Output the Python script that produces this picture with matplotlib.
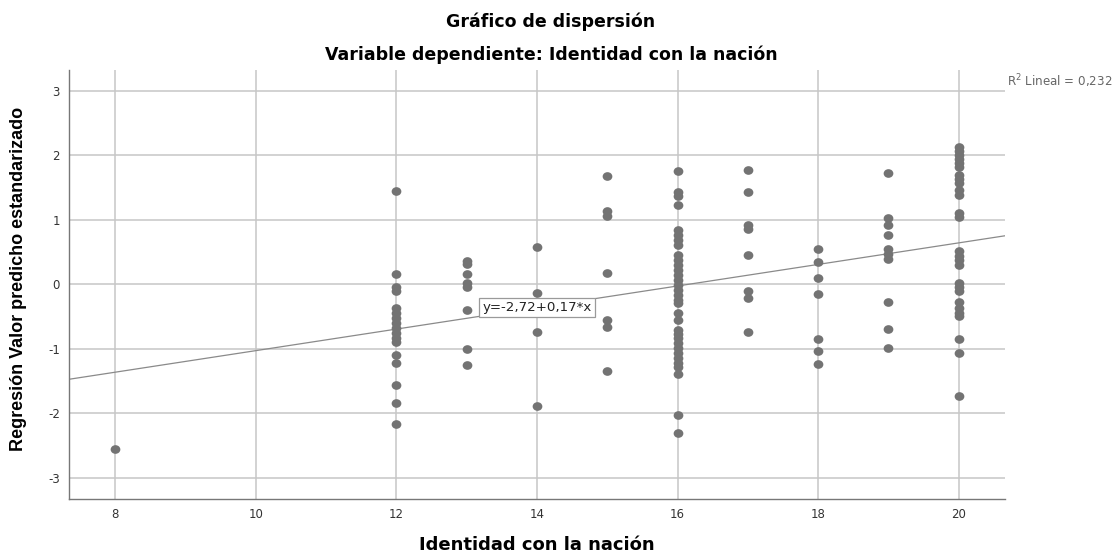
import matplotlib
matplotlib.use("Agg")
import matplotlib.pyplot as plt
import numpy as np
from matplotlib.path import Path
from matplotlib.transforms import Affine2D

plt.rcParams['font.family'] = ['DejaVu Sans']
plt.rcParams['axes.unicode_minus'] = False

# ---- data ----
identidad_levels = [8, 12, 13, 14, 15, 16, 17, 18, 19, 20]
y_8 = [-2.56]
y_12 = [1.44, 0.16, -0.05, -0.11, -0.37, -0.45, -0.53, -0.60, -0.68, -0.76,
        -0.84, -0.90, -1.10, -1.22, -1.56, -1.84, -2.16]
y_13 = [0.36, 0.31, 0.155, 0.025, -0.05, -0.40, -1.00, -1.26]
y_14 = [0.58, -0.14, -0.74, -1.89]
y_15 = [1.68, 1.14, 1.05, 0.17, -0.555, -0.66, -1.34]
y_16 = [1.76, 1.43, 1.36, 1.23, 0.84, 0.76, 0.69, 0.61, 0.45, 0.38, 0.30, 0.22,
        0.14, 0.07, -0.01, -0.09, -0.17, -0.24, -0.29, -0.45, -0.56, -0.71,
        -0.77, -0.84, -0.91, -0.99, -1.07, -1.15, -1.22, -1.29, -1.40, -2.03, -2.30]
y_17 = [1.77, 1.43, 0.92, 0.85, 0.45, -0.10, -0.22, -0.74]
y_18 = [0.55, 0.34, 0.09, -0.15, -0.85, -1.03, -1.24]
y_19 = [1.72, 1.02, 0.91, 0.76, 0.54, 0.47, 0.39, -0.28, -0.69, -0.99]
y_20 = [2.13, 2.07, 2.00, 1.94, 1.88, 1.81, 1.69, 1.63, 1.57, 1.46, 1.38, 1.10,
        1.04, 0.51, 0.44, 0.37, 0.30, 0.02, -0.04, -0.10, -0.28, -0.37, -0.44,
        -0.50, -0.85, -1.06, -1.74]
columns = [y_8, y_12, y_13, y_14, y_15, y_16, y_17, y_18, y_19, y_20]

fit_intercept = -2.70
fit_slope = 0.167
fit_label = "y=-2,72+0,17*x"
r2_label = "R$^2$ Lineal = 0,232"

x_ticks = [8, 10, 12, 14, 16, 18, 20]
y_ticks = [-3, -2, -1, 0, 1, 2, 3]

xs = np.concatenate([[lv] * len(c) for lv, c in zip(identidad_levels, columns)])
ys = np.concatenate(columns)

# ---- figure ----
W, H = 1118, 554
fig = plt.figure(figsize=(W / 100, H / 100), dpi=100)
ax_l, ax_r, ax_t, ax_b = 69, 1005, 70, 499
ax = fig.add_axes([ax_l / W, 1 - ax_b / H, (ax_r - ax_l) / W, (ax_b - ax_t) / H])

xlim = (7.34, 20.66)
ylim = (-3.33, 3.32)
ax.set_xlim(*xlim)
ax.set_ylim(*ylim)

grid_color = '#c6c6c6'
for xt in x_ticks:
    ax.axvline(xt, color=grid_color, lw=1.1, zorder=1)
for yt in y_ticks:
    ax.axhline(yt, color=grid_color, lw=1.1, zorder=1)

# regression line
lx = np.array(xlim)
ax.plot(lx, fit_intercept + fit_slope * lx, color='#8a8a8a', lw=0.9, zorder=2)

# slightly wide elliptical dot
ell = Path.unit_circle().transformed(Affine2D().scale(1.12, 1.0))
ax.plot(xs, ys, linestyle='none', marker=ell, color='#737373', markersize=7.0,
        markeredgewidth=0, zorder=3)

lab_x = 14
ax.text(lab_x, fit_intercept + fit_slope * lab_x, fit_label, ha='center',
        va='center', fontsize=9.6, color='#222222', zorder=5,
        bbox=dict(boxstyle='square,pad=0.25', fc='white', ec='#9a9a9a', lw=0.9))

ax.set_xticks(x_ticks)
ax.set_yticks(y_ticks)
ax.tick_params(length=0, labelsize=8.5, colors='#333333', pad=6.5)
for s in ['top', 'right']:
    ax.spines[s].set_visible(False)
for s in ['left', 'bottom']:
    ax.spines[s].set_color('#777777')
    ax.spines[s].set_linewidth(1.0)

xl = ax.set_xlabel("Identidad con la nación", fontsize=13, fontweight='bold')
xl.set_va('center')
ax.xaxis.set_label_coords(0.5, (ax_b - 545) / (ax_b - ax_t))

yl = ax.set_ylabel("Regresión Valor predicho estandarizado", fontsize=13,
                   fontweight='bold', family=['Liberation Sans', 'DejaVu Sans'])
yl.set_va('center')
ax.yaxis.set_label_coords((19 - ax_l) / (ax_r - ax_l), (ax_b - 279) / (ax_b - ax_t))

fig.text(551 / W, 1 - 27 / H, "Gráfico de dispersión", ha='center',
         va='baseline', fontsize=12.5, fontweight='bold')
fig.text(551 / W, 1 - 60 / H, "Variable dependiente: Identidad con la nación",
         ha='center', va='baseline', fontsize=12.5, fontweight='bold')

fig.text(1007 / W, 1 - 81 / H, r2_label, ha='left', va='center',
         fontsize=8.6, color='#666666')

fig.savefig("out.png", dpi=100)
